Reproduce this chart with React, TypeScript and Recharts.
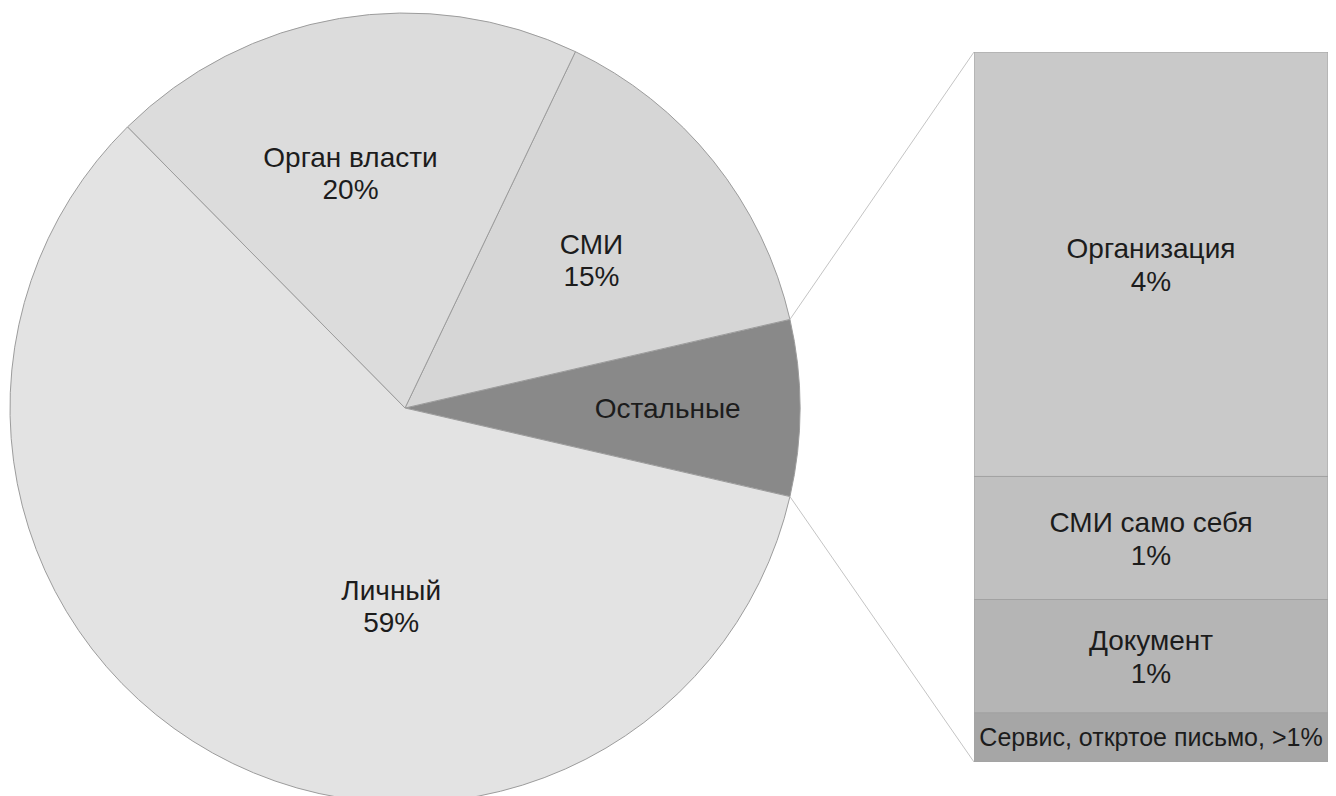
import React from 'react';
import { PieChart, Pie, Cell, BarChart, Bar, XAxis, YAxis, LabelList } from 'recharts';

// ---- Data ----
const pieNames = ['Остальные', 'СМИ', 'Орган власти', 'Личный'];
const pieValues = [7.2, 14.3, 19.5, 59.0];
const piePctLabels = ['', '15%', '20%', '59%'];

const barNames = ['Сервис, откртое письмо, >1%', 'Документ', 'СМИ само себя', 'Организация'];
const barValues = [0.5, 1.15, 1.25, 4.31];
const barPctLabels = ['', '1%', '1%', '4%'];

// ---- Styles ----
const pieColors = ['#898989', '#d6d6d6', '#dcdcdc', '#e3e3e3'];
const barColors = ['#a6a6a6', '#b5b5b5', '#c0c0c0', '#c9c9c9'];
const FONT = '"Liberation Sans", Arial, sans-serif';
const TEXT = '#1c1c1c';

const W = 1336;
const H = 796;
const PCX = 405;
const PCY = 408;
const PR = 395;
const OTHERS_HALF = (pieValues[0] / pieValues.reduce((a, b) => a + b, 0)) * 180;
const START = -OTHERS_HALF;

const BAR_X = 974;
const BAR_Y = 52;
const BAR_W = 354;
const BAR_H = 710;

const pieData = pieNames.map((name, i) => ({ name, value: pieValues[i], pct: piePctLabels[i] }));
const barTotal = barValues.reduce((a, b) => a + b, 0);
const barRow: Record<string, number | string> = { cat: 'others' };
barValues.forEach((v, i) => {
  barRow['s' + i] = v;
});
const barData = [barRow];

const RAD = Math.PI / 180;

// label placement tweaks (radius fraction, optional angle override)
const labelPlace: Record<string, { r: number; angle?: number }> = {
  'Остальные': { r: 0.665 },
  'СМИ': { r: 0.605 },
  'Орган власти': { r: 0.613, angle: 103 },
  'Личный': { r: 0.5, angle: 266 },
};

const PieLabel = (props: any) => {
  const { cx, cy, midAngle, outerRadius, index } = props;
  const d = pieData[index];
  const place = labelPlace[d.name] || { r: 0.6 };
  const ang = place.angle !== undefined ? place.angle : midAngle;
  const r = outerRadius * place.r;
  const x = cx + r * Math.cos(-ang * RAD);
  const y = cy + r * Math.sin(-ang * RAD);
  if (!d.pct) {
    return (
      <text x={x} y={y} textAnchor="middle" dominantBaseline="central" fill={TEXT} fontSize={28} fontFamily={FONT}>
        {d.name}
      </text>
    );
  }
  return (
    <text x={x} textAnchor="middle" fill={TEXT} fontSize={28} fontFamily={FONT}>
      <tspan x={x} y={y - 5}>{d.name}</tspan>
      <tspan x={x} y={y + 27}>{d.pct}</tspan>
    </text>
  );
};

const makeBarLabel = (i: number) => (props: any) => {
  const { x, y, width, height } = props;
  const cx = x + width / 2;
  const cy = y + height / 2;
  const pct = barPctLabels[i];
  if (!pct) {
    return (
      <text x={cx} y={cy} textAnchor="middle" dominantBaseline="central" fill={TEXT} fontSize={25} fontFamily={FONT}>
        {barNames[i]}
      </text>
    );
  }
  return (
    <text x={cx} textAnchor="middle" fill={TEXT} fontSize={28} fontFamily={FONT}>
      <tspan x={cx} y={cy - 6}>{barNames[i]}</tspan>
      <tspan x={cx} y={cy + 27}>{pct}</tspan>
    </text>
  );
};

export default function App() {
  const a1 = OTHERS_HALF * RAD;
  const topRim = { x: PCX + PR * Math.cos(a1), y: PCY - PR * Math.sin(a1) };
  const botRim = { x: PCX + PR * Math.cos(a1), y: PCY + PR * Math.sin(a1) };
  return (
    <div style={{ position: 'absolute', left: 0, top: 0, width: W, height: H, background: '#fff', overflow: 'hidden' }}>
      <div style={{ position: 'absolute', left: 0, top: 0 }}>
        <PieChart width={W} height={H} margin={{ top: 0, right: 0, bottom: 0, left: 0 }}>
          <Pie
            data={pieData}
            dataKey="value"
            nameKey="name"
            cx={PCX}
            cy={PCY}
            outerRadius={PR}
            innerRadius={0}
            startAngle={START}
            endAngle={START + 360}
            stroke="#9c9c9c"
            strokeWidth={1}
            label={PieLabel}
            labelLine={false}
            isAnimationActive={false}
          >
            {pieData.map((d, i) => (
              <Cell key={d.name} fill={pieColors[i]} />
            ))}
          </Pie>
        </PieChart>
      </div>
      <svg width={W} height={H} style={{ position: 'absolute', left: 0, top: 0, pointerEvents: 'none' }}>
        <line x1={topRim.x} y1={topRim.y} x2={BAR_X} y2={BAR_Y} stroke="#c4c4c4" strokeWidth={1} />
        <line x1={botRim.x} y1={botRim.y} x2={BAR_X} y2={BAR_Y + BAR_H} stroke="#c4c4c4" strokeWidth={1} />
      </svg>
      <div style={{ position: 'absolute', left: BAR_X, top: BAR_Y }}>
        <BarChart
          width={BAR_W}
          height={BAR_H}
          data={barData}
          margin={{ top: 0, right: 0, bottom: 0, left: 0 }}
          barCategoryGap={0}
          barGap={0}
        >
          <XAxis dataKey="cat" hide />
          <YAxis hide domain={[0, barTotal]} />
          {barValues.map((_, i) => (
            <Bar
              key={i}
              dataKey={'s' + i}
              stackId="a"
              fill={barColors[i]}
              stroke="#a2a2a2"
              strokeWidth={1}
              isAnimationActive={false}
            >
              <LabelList dataKey={'s' + i} content={makeBarLabel(i)} />
            </Bar>
          ))}
        </BarChart>
      </div>
    </div>
  );
}
